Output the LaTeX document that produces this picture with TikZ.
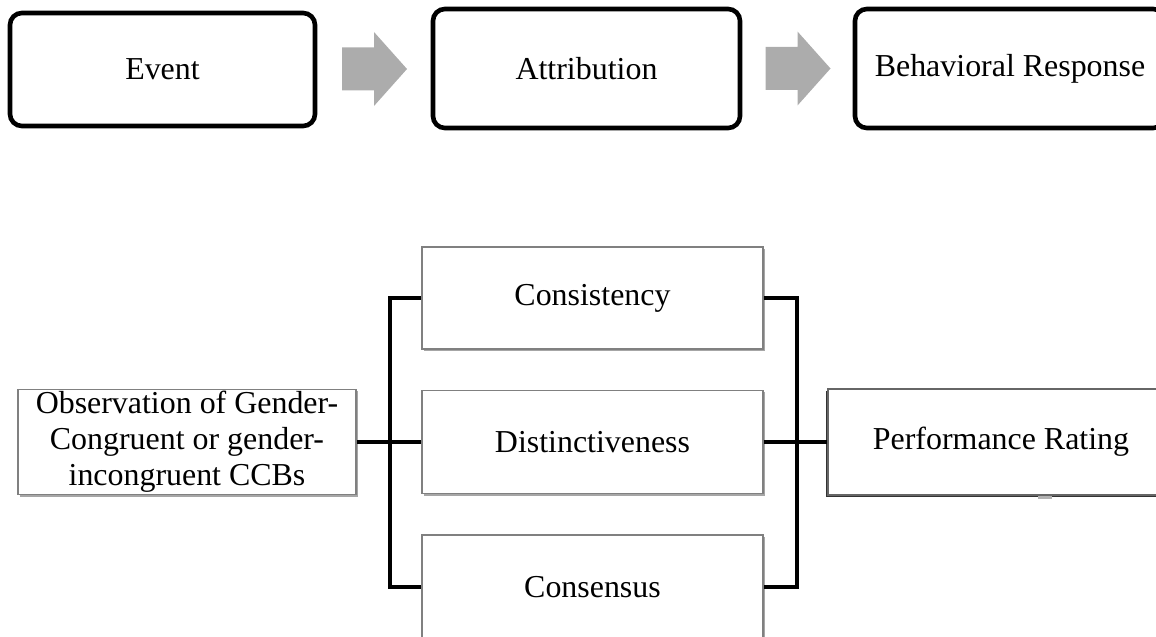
\documentclass[tikz,border=0pt]{standalone}
\usepackage{fontspec}
\setmainfont{Liberation Serif}
\usetikzlibrary{calc, shadows}

\begin{document}
\begin{tikzpicture}[x=0.025cm, y=-0.025cm, font=\fontsize{22.7}{25.6}\selectfont]
	\tikzset{
		stage/.style={draw=black, line width=0.115cm, rounded corners=0.3cm, fill=white, inner sep=0pt, align=center},
		factor/.style={draw=gray, line width=0.04cm, fill=white, inner sep=0pt, align=center,
			drop shadow={shadow xshift=0.05cm, shadow yshift=-0.05cm, fill=gray!70, opacity=1}},
		outcome/.style={factor, draw=gray!80!black,
			drop shadow={shadow xshift=-0.05cm, shadow yshift=-0.06cm, fill=gray!40!black, opacity=1}},
		bus/.style={line width=0.12cm, black},
		flow/.pic={
			code={
				\fill[gray!65] (-32,-21.5) -- (0,-21.5) -- (0,-37) -- (33,0) -- (0,37) -- (0,21.5) -- (-32,21.5) -- cycle;
			}
		},
	}

	\clip (0,0) rectangle (1156,637);

	% process chain
	\node[stage, minimum width=7.625cm, minimum height=2.825cm] (event) at (162.5,69.5) {Event};
	\node[stage, minimum width=7.675cm, minimum height=2.975cm] (attr) at (586.5,68.5) {Attribution};
	\node[stage, minimum width=7.75cm, minimum height=2.975cm] (resp) at (1010,68.5) {Behavioral Response};

	\pic at ($(event.east)!0.5!(attr.west)$) {flow};
	\pic at ($(attr.east)!0.5!(resp.west)$) {flow};

	% model
	\node[factor, minimum width=8.45cm, minimum height=2.625cm] (obs) at (187,442) {Observation of Gender-\\Congruent or gender-\\incongruent CCBs};
	\node[factor, minimum width=8.525cm, minimum height=2.55cm] (consist) at (592.5,298) {Consistency};
	\node[factor, minimum width=8.525cm, minimum height=2.575cm] (dist) at (592.5,442) {Distinctiveness};
	\node[factor, minimum width=8.525cm, minimum height=2.6cm] (consens) at (592.5,587) {Consensus};
	\node[outcome, minimum width=8.65cm, minimum height=2.65cm] (perf) at (1001,442) {Performance Rating};

	\coordinate (lbus) at (390,442);
	\coordinate (rbus) at (797,442);

	\draw[bus] (obs.east) -- (dist.west);
	\draw[bus] (consist.west) -| (lbus) |- (consens.west);
	\draw[bus] (consist.east) -| (rbus) |- (consens.east);
	\draw[bus] (dist.east) -- (perf.west);

	\fill[gray!60] (1038,496) rectangle (1052,499);
\end{tikzpicture}
\end{document}
